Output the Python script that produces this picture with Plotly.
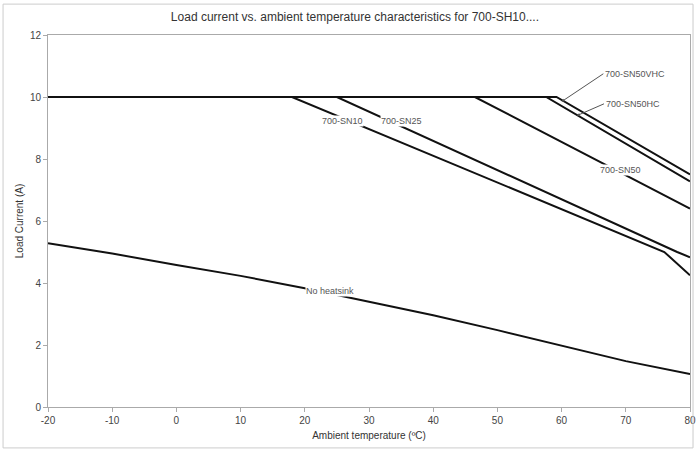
import plotly.graph_objects as go

# Data (temperature in °C, load current in A)
nohs_t = [-20, -10, 0, 10, 20, 30, 40, 50, 60, 70, 80]
nohs_i = [5.28, 4.95, 4.58, 4.23, 3.83, 3.39, 2.96, 2.48, 1.97, 1.48, 1.06]

sn10_t = [-20, 18, 76, 80]
sn10_i = [10, 10, 5.0, 4.25]

sn25_t = [-20, 25, 78, 80]
sn25_i = [10, 10, 5.0, 4.83]

sn50_t = [-20, 46.5, 80]
sn50_i = [10, 10, 6.4]

sn50hc_t = [-20, 57.6, 80]
sn50hc_i = [10, 10, 7.28]

sn50vhc_t = [-20, 59.2, 80]
sn50vhc_i = [10, 10, 7.5]

x_ticks = [-20, -10, 0, 10, 20, 30, 40, 50, 60, 70, 80]
x_ticktext = ["-20", "-10", "0", "10", "20", "30", "40", "50", "60", "70", "80"]
y_ticks = [0, 2, 4, 6, 8, 10, 12]

series = [
    ("No heatsink", nohs_t, nohs_i),
    ("700-SN10", sn10_t, sn10_i),
    ("700-SN25", sn25_t, sn25_i),
    ("700-SN50", sn50_t, sn50_i),
    ("700-SN50HC", sn50hc_t, sn50hc_i),
    ("700-SN50VHC", sn50vhc_t, sn50vhc_i),
]

fig = go.Figure()
for name, t, i in series:
    fig.add_trace(go.Scatter(x=t, y=i, mode="lines", name=name,
                             line=dict(color="#111111", width=2), showlegend=False))

lab_font = dict(family="Liberation Sans, Arial, sans-serif", size=9, color="#555555")
# inline labels (with white background covering the line)
for txt, x, y in [("No heatsink", 24.0, 3.75), ("700-SN10", 25.8, 9.23),
                  ("700-SN25", 35.1, 9.23), ("700-SN50", 69.2, 7.63)]:
    fig.add_annotation(x=x, y=y, text=txt, showarrow=False, font=lab_font,
                       bgcolor="white", borderpad=0)

# arrow labels
fig.add_annotation(x=60.0, y=9.85, ax=66.5, ay=10.75, axref="x", ayref="y",
                   text="700-SN50VHC", showarrow=True, arrowhead=2, arrowsize=0.6,
                   arrowwidth=1, arrowcolor="#555555", font=lab_font, xanchor="left")
fig.add_annotation(x=62.4, y=9.4, ax=66.6, ay=9.78, axref="x", ayref="y",
                   text="700-SN50HC", showarrow=True, arrowhead=2, arrowsize=0.6,
                   arrowwidth=1, arrowcolor="#555555", font=lab_font, xanchor="left")

fig.add_shape(type="rect", xref="paper", yref="paper", x0=-0.07, y0=-0.11, x1=1.0047, y1=1.083,
              line=dict(color="#cccccc", width=1))

fig.update_layout(
    width=696, height=452,
    margin=dict(l=48, r=6, t=35, b=45, autoexpand=False),
    paper_bgcolor="white", plot_bgcolor="white",
    font=dict(family="Liberation Sans, Arial, sans-serif", size=10, color="#333333"),
    title=dict(text="Load current vs. ambient temperature characteristics for 700-SH10....",
               x=0.51, xanchor="center", y=0.962, yanchor="middle",
               font=dict(size=12, color="#333333")),
    xaxis=dict(range=[-20, 80], tickvals=x_ticks, ticktext=x_ticktext,
               showgrid=False, zeroline=False, automargin=False,
               showline=True, linecolor="#aaaaaa", linewidth=1, mirror=True,
               ticks="outside", ticklen=4, tickcolor="#aaaaaa",
               tickfont=dict(size=10, color="#444444"),
               title=dict(text="Ambient temperature (ºC)", standoff=6,
                          font=dict(size=10, color="#333333"))),
    yaxis=dict(range=[0, 12], tickvals=y_ticks, showgrid=False, zeroline=False,
               automargin=False,
               showline=True, linecolor="#aaaaaa", linewidth=1, mirror=True,
               ticks="outside", ticklen=4, tickcolor="#aaaaaa",
               tickfont=dict(size=10, color="#444444"),
               title=dict(text="Load Current (A)", standoff=4,
                          font=dict(size=10, color="#333333"))),
)

fig.write_html("out.html", config={"displayModeBar": False},
               post_script="document.body.style.margin='0px';")
